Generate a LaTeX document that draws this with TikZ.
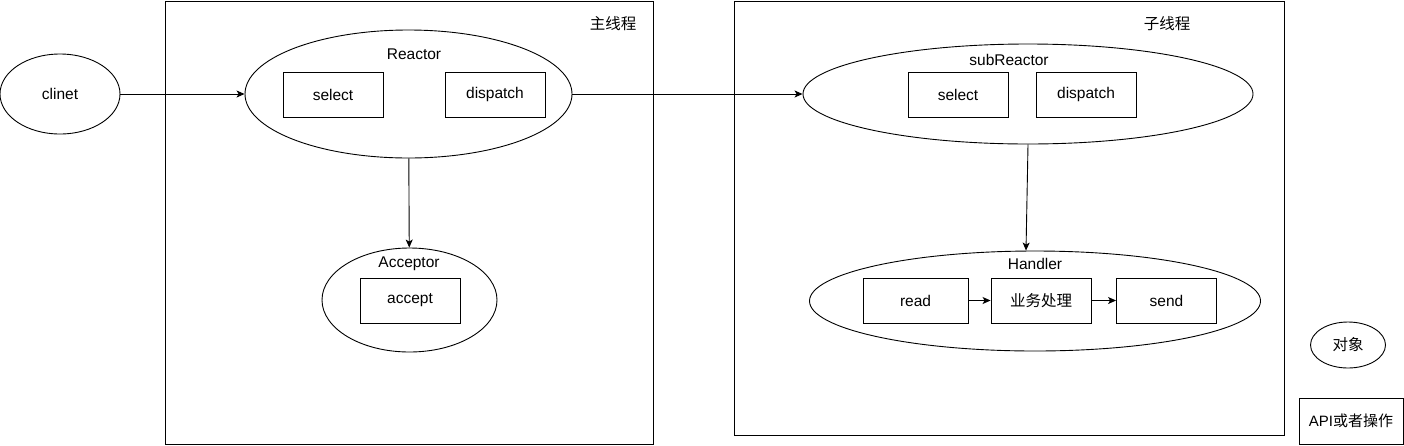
\documentclass[tikz,border=0pt]{standalone}
\usepackage{fontspec}
\setmainfont{Liberation Sans}
\newfontfamily\cjk{Noto Sans CJK SC}
\usetikzlibrary{arrows.meta,positioning,shapes.geometric}
\tikzset{
  obj/.style={draw, ellipse, line width=0.9pt, inner sep=0pt},
  op/.style={draw, line width=0.9pt, minimum width=100pt, minimum height=45pt,
             inner sep=0pt, font=\fontsize{15.5}{18}\selectfont},
  lbl/.style={inner sep=0pt, font=\fontsize{15.5}{18}\selectfont},
  thread/.style={draw, line width=0.9pt, inner sep=0pt},
  arrow/.style={-{Stealth[length=8pt,width=7pt,inset=2pt]}, line width=0.9pt}
}
\begin{document}
\begin{tikzpicture}[x=1pt, y=-1pt]
  \useasboundingbox (0,0) rectangle (1404,445);
  % threads
  \node[thread, minimum width=488pt, minimum height=443pt] (mainthr) at (409,222.5) {};
  \node[lbl] (maintitle) at (613,24) {\cjk 主线程};
  \node[thread, minimum width=550pt, minimum height=434pt] (subthr) at (1009,218) {};
  \node[lbl] (subtitle) at (1167,24) {\cjk 子线程};
  % main thread
  \node[obj, minimum width=120pt, minimum height=80pt] (client) at (60,94) {};
  \node[lbl] at (client) {clinet};
  \node[obj, minimum width=327pt, minimum height=128pt] (reactor) at (408.5,94) {};
  \node[lbl] (reactortitle) at (414,54) {Reactor};
  \node[op] (select) at (333,94.5) {select};
  \node[op] (dispatch) at (495,94.5) {dispatch};
  \node[obj, minimum width=175pt, minimum height=104pt] (acceptor) at (409.5,300) {};
  \node[lbl] (acceptortitle) at (409,264) {Acceptor};
  \node[op] (accept) at (410,300.5) {accept};
  % sub thread
  \node[obj, minimum width=450pt, minimum height=100pt] (subreactor) at (1028,94) {};
  \node[lbl] (subreactortitle) at (1009,60) {subReactor};
  \node[op] (subselect) at (958,94.5) {select};
  \node[op] (subdispatch) at (1086,94.5) {dispatch};
  \node[obj, minimum width=451pt, minimum height=100pt] (handler) at (1035,301) {};
  \node[lbl] (handlertitle) at (1035,264) {Handler};
  \node[op, minimum width=105pt] (read) at (915.5,300.5) {read};
  \node[op] (biz) at (1041,300.5) {\cjk 业务处理};
  \node[op] (send) at (1166.5,300.5) {send};
  % legend
  \node[obj, minimum width=75pt, minimum height=46pt] (legobj) at (1348,345) {};
  \node[lbl] at (legobj) {\cjk 对象};
  \node[op, minimum width=104pt, minimum height=46pt, font=\fontsize{15}{18}\selectfont] (legop) at (1351,421) {API{\cjk 或者操作}};
  % connectors
  \draw[arrow] (client) -- (reactor);
  \draw[arrow] (reactor) -- (acceptor);
  \draw[arrow] (reactor) -- (subreactor);
  \draw[arrow] (subreactor.south) -- ([xshift=-9pt]handler.north);
  \draw[arrow] (read) -- (biz);
  \draw[arrow] (biz) -- (send);
\end{tikzpicture}
\end{document}
